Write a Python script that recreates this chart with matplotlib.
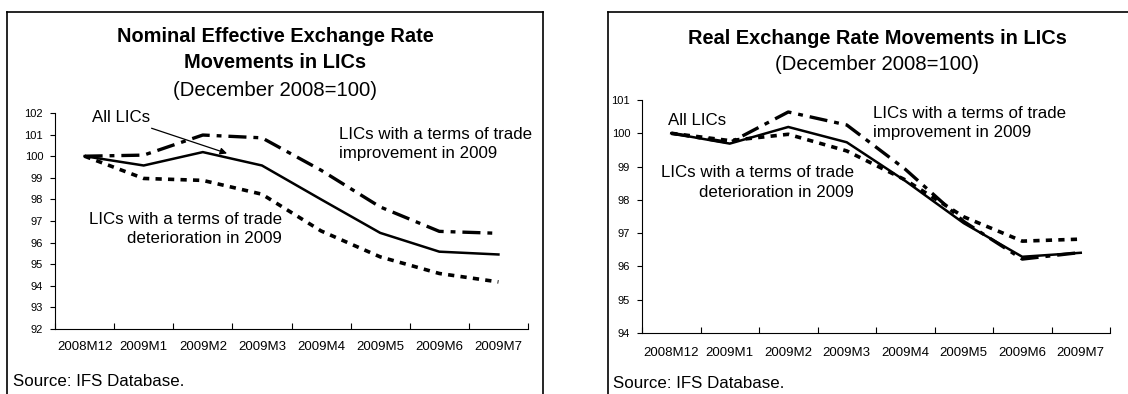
import matplotlib
matplotlib.use("Agg")
import matplotlib.pyplot as plt
from matplotlib.lines import Line2D

plt.rcParams['font.family'] = ['Liberation Sans', 'DejaVu Sans']
plt.rcParams['lines.scale_dashes'] = False

months = ['2008M12', '2009M1', '2009M2', '2009M3', '2009M4', '2009M5', '2009M6', '2009M7']

# nominal effective exchange rate (Dec 2008 = 100)
neer_all = [100.0, 99.57, 100.19, 99.57, 98.0, 96.45, 95.58, 95.45]
neer_improve = [100.0, 100.05, 100.98, 100.85, 99.35, 97.65, 96.52, 96.43]
neer_deter = [100.0, 98.97, 98.88, 98.24, 96.54, 95.34, 94.57, 94.18]

# real exchange rate (Dec 2008 = 100)
reer_all = [100.0, 99.69, 100.19, 99.73, 98.57, 97.3, 96.29, 96.41]
reer_improve = [100.0, 99.72, 100.64, 100.25, 98.92, 97.35, 96.22, 96.42]
reer_deter = [100.0, 99.78, 99.97, 99.47, 98.6, 97.49, 96.76, 96.82]

W, H = 1128, 394
NOTE_SIZE = 12.2


def fx(x):
    return x / W


def fy(y):
    return 1 - y / H


def draw_series(ax, all_vals, imp_vals, det_vals):
    x = range(len(months))
    ax.plot(x, det_vals, color='black', lw=2.6, dashes=(4.5, 4.5), dash_capstyle='butt')
    ax.plot(x, imp_vals, color='black', lw=2.4, dashes=(13, 5, 3.5, 5), dash_capstyle='butt')
    ax.plot(x, all_vals, color='black', lw=1.8, solid_joinstyle='miter')


def style_axes(ax, ylo, yhi, xpad):
    ax.set_xlim(-0.5, len(months) - 0.5)
    ax.set_ylim(ylo, yhi)
    ax.set_yticks(range(ylo, yhi + 1))
    ax.tick_params(axis='y', direction='out', length=3.5, width=0.8, labelsize=8, pad=5)
    ax.set_xticks([i - 0.5 for i in range(len(months) + 1)])
    ax.set_xticklabels([])
    ax.tick_params(axis='x', which='major', direction='in', length=4, width=0.8)
    ax.set_xticks(range(len(months)), minor=True)
    ax.set_xticklabels(months, minor=True)
    ax.tick_params(axis='x', which='minor', length=0, labelsize=9.5, pad=xpad)
    for s in ['top', 'right']:
        ax.spines[s].set_visible(False)
    for s in ['left', 'bottom']:
        ax.spines[s].set_linewidth(0.8)


def note(ax, x, y, s, ha):
    ax.text(x, y, s, fontsize=NOTE_SIZE, ha=ha, va='center', linespacing=1.35,
            multialignment=ha)


def frame(fig, x0, x1, y0):
    kw = dict(color='black', lw=1.2, transform=fig.transFigure)
    fig.add_artist(Line2D([fx(x0), fx(x0)], [fy(y0), 0], **kw))
    fig.add_artist(Line2D([fx(x0), fx(x1)], [fy(y0), fy(y0)], **kw))
    if x1 < W:
        fig.add_artist(Line2D([fx(x1), fx(x1)], [fy(y0), 0], **kw))


fig = plt.figure(figsize=(W / 100, H / 100), dpi=100)

# left panel
ax1 = fig.add_axes([fx(55), fy(329), fx(528) - fx(55), fy(113) - fy(329)])
draw_series(ax1, neer_all, neer_improve, neer_deter)
style_axes(ax1, 92, 102, 8.5)
ax1.annotate('All LICs', xy=(2.41, 100.13), xytext=(0.12, 101.77), fontsize=NOTE_SIZE,
             ha='left', va='center',
             arrowprops=dict(arrowstyle='-|>', color='black', lw=0.9, mutation_scale=10,
                             shrinkA=0, shrinkB=0))
note(ax1, 4.31, 100.56, 'LICs with a terms of trade\nimprovement in 2009', 'left')
note(ax1, 3.34, 96.63, 'LICs with a terms of trade\ndeterioration in 2009', 'right')

fig.text(fx(275), fy(36), 'Nominal Effective Exchange Rate', fontsize=14.4, fontweight='bold',
         ha='center', va='center')
fig.text(fx(275), fy(63), 'Movements in LICs', fontsize=14.4, fontweight='bold',
         ha='center', va='center')
fig.text(fx(275), fy(90), '(December 2008=100)', fontsize=14.7, ha='center', va='center')
fig.text(fx(13), fy(382), 'Source: IFS Database.', fontsize=12.2, ha='left', va='center')
frame(fig, 7, 543, 12)

# right panel
ax2 = fig.add_axes([fx(642), fy(333), fx(1110) - fx(642), fy(100) - fy(333)])
draw_series(ax2, reer_all, reer_improve, reer_deter)
style_axes(ax2, 94, 101, 10)
ax2.text(-0.06, 100.37, 'All LICs', fontsize=NOTE_SIZE, ha='left', va='center')
note(ax2, 3.45, 100.32, 'LICs with a terms of trade\nimprovement in 2009', 'left')
note(ax2, 3.12, 98.52, 'LICs with a terms of trade\ndeterioration in 2009', 'right')

fig.text(fx(877), fy(38), 'Real Exchange Rate Movements in LICs', fontsize=14.4,
         fontweight='bold', ha='center', va='center')
fig.text(fx(877), fy(65), '(December 2008=100)', fontsize=14.7, ha='center', va='center')
fig.text(fx(613), fy(383), 'Source: IFS Database.', fontsize=12.2, ha='left', va='center')
frame(fig, 608, W + 20, 12)

fig.savefig('out.png', dpi=100)
